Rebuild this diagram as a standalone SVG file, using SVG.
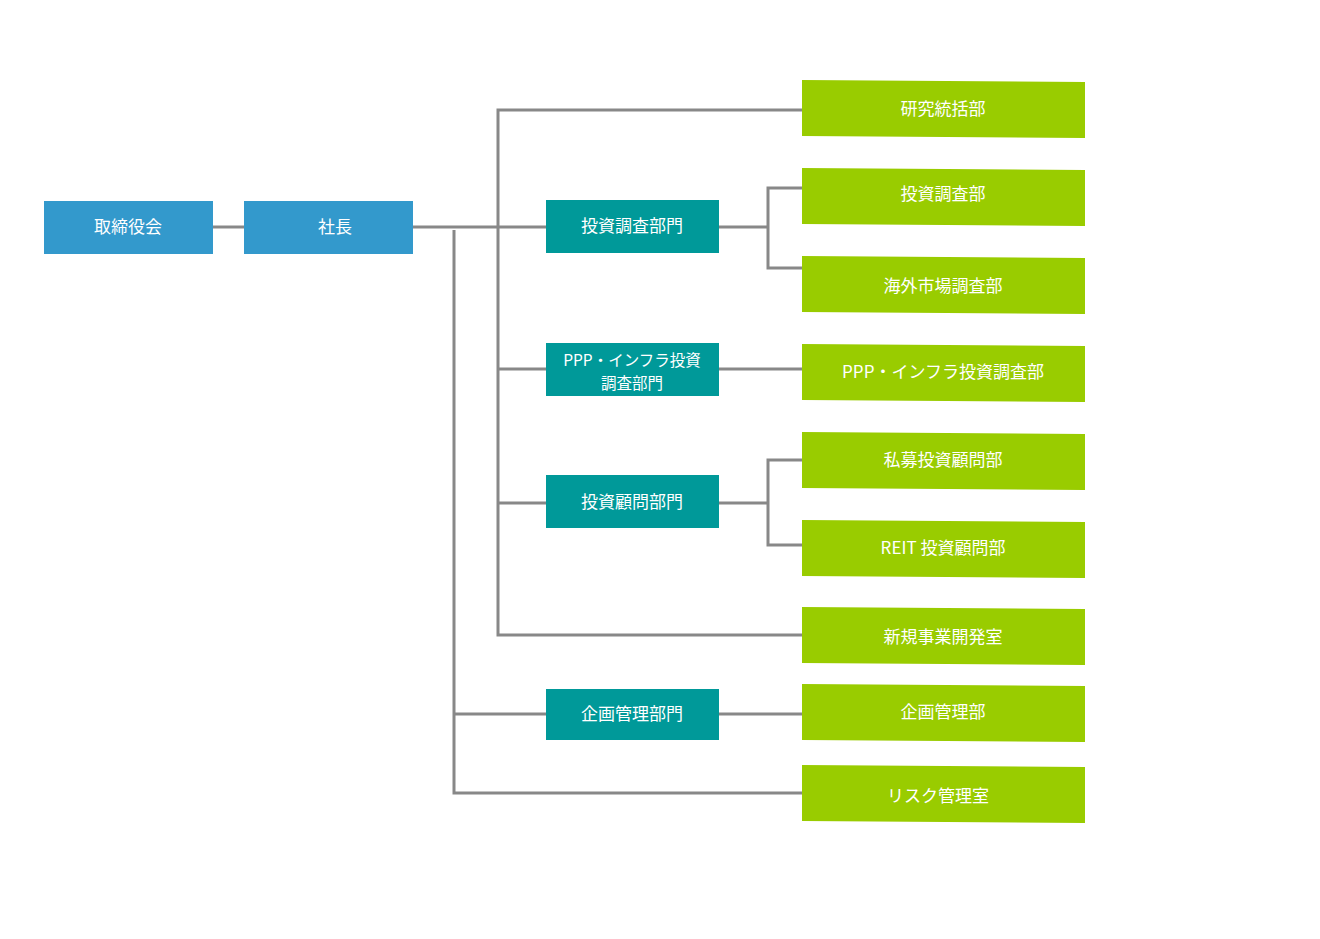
<svg xmlns="http://www.w3.org/2000/svg" width="1320" height="939" viewBox="0 0 1320 939">
<style>
.blue{fill:#3399cc}
.teal{fill:#009999}
.green{fill:#99cc00}
.t{font-family:"Noto Sans CJK JP","Noto Sans",sans-serif;font-size:17px;fill:#ffffff;text-anchor:middle;dominant-baseline:central}
.s{font-size:15.5px}
.c{fill:none;stroke:#888888;stroke-width:3}
</style>
<rect width="1320" height="939" fill="#ffffff"/>
<g id="connectors">
<path class="c" d="M213 227H244"/>
<path class="c" d="M413 227H546"/>
<path class="c" d="M454 230V793H802"/>
<path class="c" d="M454 714H546"/>
<path class="c" d="M802 110H498V635H802"/>
<path class="c" d="M498 369H546"/>
<path class="c" d="M498 503H546"/>
<path class="c" d="M719 227H768"/>
<path class="c" d="M802 188H768V268H802"/>
<path class="c" d="M719 369H802"/>
<path class="c" d="M719 503H768"/>
<path class="c" d="M802 460H768V545H802"/>
<path class="c" d="M719 714H802"/>
</g>
<g id="n-board"><rect class="blue" x="44" y="201" width="169" height="53"/><text class="t" x="128" y="225">取締役会</text></g>
<g id="n-president"><rect class="blue" x="244" y="201" width="169" height="53"/><text class="t" x="335" y="225">社長</text></g>
<g id="n-inv-research-div"><rect class="teal" x="546" y="200" width="173" height="53"/><text class="t" x="632" y="224">投資調査部門</text></g>
<g id="n-ppp-div"><rect class="teal" x="546" y="343" width="173" height="53"/><text class="t s" x="632" y="359">PPP・インフラ投資</text><text class="t s" x="632" y="382">調査部門</text></g>
<g id="n-inv-advisory-div"><rect class="teal" x="546" y="475" width="173" height="53"/><text class="t" x="632" y="500">投資顧問部門</text></g>
<g id="n-planning-div"><rect class="teal" x="546" y="689" width="173" height="51"/><text class="t" x="632" y="712">企画管理部門</text></g>
<g id="n-research"><polygon class="green" points="802,80 1085,82 1085,138 802,136"/><text class="t" x="943" y="107">研究統括部</text></g>
<g id="n-inv-research"><polygon class="green" points="802,168 1085,170 1085,226 802,224"/><text class="t" x="943" y="192">投資調査部</text></g>
<g id="n-overseas"><polygon class="green" points="802,256 1085,258 1085,314 802,312"/><text class="t" x="943" y="284">海外市場調査部</text></g>
<g id="n-ppp"><polygon class="green" points="802,344 1085,346 1085,402 802,400"/><text class="t" x="943" y="370">PPP・インフラ投資調査部</text></g>
<g id="n-private"><polygon class="green" points="802,432 1085,434 1085,490 802,488"/><text class="t" x="943" y="458">私募投資顧問部</text></g>
<g id="n-reit"><polygon class="green" points="802,520 1085,522 1085,578 802,576"/><text class="t" x="943" y="546">REIT 投資顧問部</text></g>
<g id="n-newbiz"><polygon class="green" points="802,607 1085,609 1085,665 802,663"/><text class="t" x="943" y="635">新規事業開発室</text></g>
<g id="n-planning"><polygon class="green" points="802,684 1085,686 1085,742 802,740"/><text class="t" x="943" y="710">企画管理部</text></g>
<g id="n-risk"><polygon class="green" points="802,765 1085,767 1085,823 802,821"/><text class="t" x="938" y="794">リスク管理室</text></g>
</svg>
